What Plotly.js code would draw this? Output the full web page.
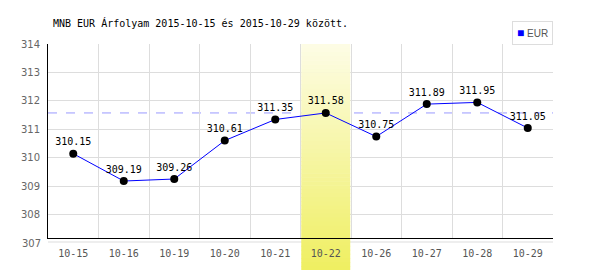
<!DOCTYPE html>
<html>
<head>
<meta charset="utf-8">
<script src="https://cdn.plot.ly/plotly-3.0.1.min.js"></script>
<style>html,body{margin:0;padding:0;background:#fff;}#chart{width:600px;height:270px;}</style>
</head>
<body>
<div id="chart"></div>
<script>
var dates = ["10-15","10-16","10-19","10-20","10-21","10-22","10-26","10-27","10-28","10-29"];
var rates = [310.15, 309.19, 309.26, 310.61, 311.35, 311.58, 310.75, 311.89, 311.95, 311.05];
var labels = ["310.15","309.19","309.26","310.61","311.35","311.58","310.75","311.89","311.95","311.05"];
var yTickVals = [307, 308, 309, 310, 311, 312, 313, 314];
var highlightDate = "10-22";
var seriesName = "EUR";
var titleText = "MNB EUR Árfolyam 2015-10-15 és 2015-10-29 között.";

(function(){
var hIdx = dates.indexOf(highlightDate);
var refValue = rates[hIdx];
var yLo = 307.19, yHi = 314;

var shapes = [];
shapes.push({type:'line', xref:'paper', yref:'paper', x0:0, x1:1, y0:-4/194, y1:-4/194,
  line:{color:'#dddddd', width:1}, layer:'below'});
shapes.push({type:'line', xref:'paper', yref:'y', x0:0, x1:1, y0:refValue, y1:refValue,
  line:{color:'#9999ff', width:1, dash:'dash'}, layer:'below'});

var cTop = [253,252,228], cBot = [239,239,98];
var plotPx = 194, totalPx = 226, n = 56;
for (var i = 0; i < n; i++) {
  var t = i/(n-1);
  var c = cTop.map(function(v,k){return Math.round(v + (cBot[k]-v)*t);});
  var col = 'rgb('+c.join(',')+')';
  var p0 = totalPx*i/n, p1 = totalPx*(i+1)/n + 0.6;
  if (p0 < plotPx) {
    var a = p0, b = Math.min(p1, plotPx);
    shapes.push({type:'rect', xref:'x', yref:'y', x0:hIdx-0.485, x1:hIdx+0.485,
      y0: yHi - (yHi-yLo)*b/plotPx, y1: yHi - (yHi-yLo)*a/plotPx,
      fillcolor:col, line:{width:0}, layer:'between'});
  }
  if (p1 > plotPx) {
    var a2 = Math.max(p0, plotPx), b2 = p1;
    shapes.push({type:'rect', xref:'x', yref:'paper', x0:hIdx-0.485, x1:hIdx+0.485,
      y0: -(b2-plotPx)/plotPx, y1: -(a2-plotPx)/plotPx,
      fillcolor:col, line:{width:0}, layer:'below'});
  }
}

var traces = [
  {x: dates, y: rates, type:'scatter', mode:'lines+markers+text', text: labels, name: seriesName,
   textposition:'top center', textfont:{family:'DejaVu Sans Mono', size:10, color:'#000'},
   line:{color:'#0000ff', width:1}, marker:{color:'#000', size:8}, showlegend:false, hoverinfo:'x+y', cliponaxis:false}
];

var layout = {
  width:600, height:270,
  margin:{l:48, r:47, t:44, b:32, pad:0},
  paper_bgcolor:'#fff', plot_bgcolor:'#fff',
  title:{text:titleText, xref:'container', yref:'container', x:53/600, xanchor:'left',
    y:1-23/270, yanchor:'middle', font:{family:'DejaVu Sans Mono', size:10, color:'#000'}},
  xaxis:{type:'category', categoryarray:dates, tickson:'boundaries', showgrid:true, gridcolor:'#dddddd',
    showline:true, linecolor:'#000', linewidth:1, ticks:'', ticklabelstandoff:6,
    tickfont:{family:'DejaVu Sans Mono', size:10, color:'#555'}, range:[-0.5, dates.length-0.5], fixedrange:true, zeroline:false},
  yaxis:{range:[yLo, yHi], tickmode:'array', tickvals:yTickVals, showgrid:true, gridcolor:'#dddddd', showline:true, linecolor:'#000', linewidth:1,
    ticks:'', ticklabelstandoff:5, tickfont:{family:'DejaVu Sans', size:10, color:'#666'}, zeroline:false, fixedrange:true},
  annotations:[
    {text:String(yTickVals[0]), xref:'paper', x:-5/505, yref:'y', y:yTickVals[1],
     axref:'pixel', ax:0, ayref:'y', ay:yTickVals[0], showarrow:true, arrowcolor:'rgba(0,0,0,0)', arrowwidth:0.1,
     xanchor:'right', yanchor:'middle', font:{family:'DejaVu Sans', size:10, color:'#666'}},
    {text:'<span style="color:#0000ff;font-size:12px">■</span> ' + seriesName, xref:'paper', x:1, xanchor:'right',
     yref:'paper', y:1+23/194, yanchor:'top', showarrow:false, bordercolor:'#dddddd', borderwidth:1, borderpad:4,
     bgcolor:'#fff', font:{family:'Liberation Sans Narrow, Liberation Sans', size:10, color:'#555'}}
  ],
  showlegend:false,
  shapes: shapes
};

Plotly.newPlot('chart', traces, layout, {displayModeBar:false, staticPlot:true});
})();
</script>
</body>
</html>
